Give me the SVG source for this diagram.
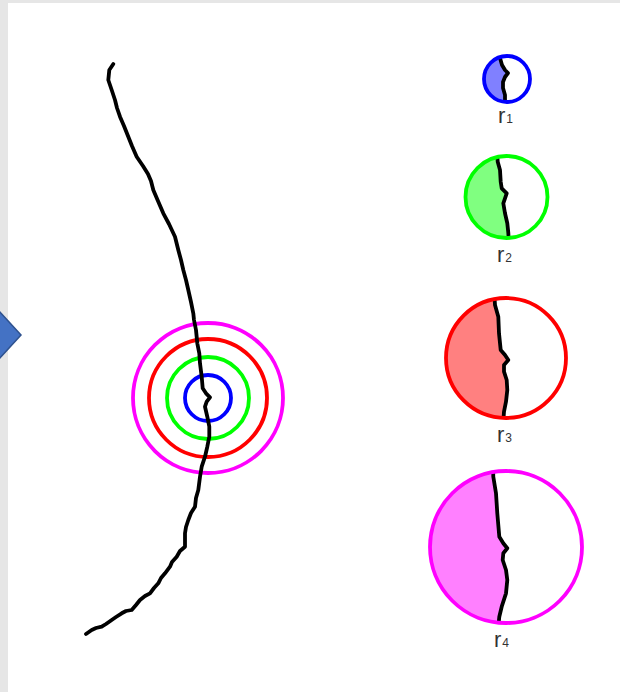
<svg xmlns="http://www.w3.org/2000/svg" width="620" height="692" viewBox="0 0 620 692">
<style>
.crack{fill:none;stroke:#000;stroke-width:3.8;stroke-linejoin:round;stroke-linecap:round}
.ring{fill:none;stroke-width:3.8}
.lbl{font-family:"Liberation Sans",Arial,sans-serif;fill:#333333}
.r{font-size:22px}
.sub{font-size:12px}
</style>
<defs>
<clipPath id="c1"><circle cx="507" cy="79" r="23"/></clipPath>
<clipPath id="c2"><circle cx="506.5" cy="197" r="41"/></clipPath>
<clipPath id="c3"><circle cx="506" cy="358" r="60"/></clipPath>
<clipPath id="c4"><circle cx="506" cy="547" r="76"/></clipPath>
</defs>
<rect x="0" y="0" width="620" height="692" fill="#e6e6e6"/>
<rect x="8" y="3" width="612" height="689" fill="#ffffff"/>
<g id="arrow">
<polygon points="-20,311 -1,311 21,335 -1,359 -20,359" fill="#4472C4" stroke="#2F528F" stroke-width="1.5"/>
</g>
<g id="rings">
<circle class="ring" cx="208" cy="398" r="75" stroke="#FF00FF"/>
<circle class="ring" cx="208" cy="398" r="59" stroke="#FF0000"/>
<circle class="ring" cx="208" cy="398" r="41" stroke="#00FF00"/>
<circle class="ring" cx="208" cy="398" r="23" stroke="#0000FF"/>
</g>
<g id="connectors">
<polyline class="crack" points="113.3,64 109.3,70 108.3,80 110,85 111.7,90 115,100 117,108 120,116.7 124,126 128.3,136.7 132,146 136.7,156.7 143,166 148,174 151,181 153.3,190 158,201 163.3,213.3 169,224 175,236.7 178.3,250 181,260 183.3,270 186,280 188.3,290 191,302 193.3,313.3 194,320 196,330 197.3,343.3 199.3,353.3 200,363.3 201.7,376.7 202.7,388.3 206,393.3 210,397.3 206.7,401.7 205,406.7 207.3,416.7 209.3,426.7 209.3,436.7 207.3,446.7 205,456.7 201.7,466.7 200,476.7 198.3,490 196,498 195,506.7 191,513 188.3,520 186,527 185,533.3 185,546.7 180,551 176.7,556.7 172,562 170,566.7 165,573.3 161,578 158.3,583.3 154,588 150,593.3 145,596 140,600 136,605 131.7,610 126,611 121.7,613.3 116,617 111.7,620 106,624 101.7,626.7 96,628 91.7,630 86,634"/>
</g>
<g id="r1">
<path d="M495,50 L500,58 502,65 505,70 508,73 505,77 503,82 503,88 505,95 505,108 L470,108 470,50 Z" fill="#8080FF" clip-path="url(#c1)"/>
<polyline class="crack" clip-path="url(#c1)" points="499,50 500,58 502,65 505,70 508,73 505,77 503,82 503,88 505,95 505,108"/>
<circle class="ring" cx="507" cy="79" r="23" stroke="#0000FF"/>
<text class="lbl" x="498" y="123"><tspan class="r">r</tspan><tspan class="sub" dx="1">1</tspan></text>
</g>
<g id="r2">
<path d="M497,150 L497.7,161.7 500,170 500.7,181.7 501.7,188.3 506.7,193.3 505,198.3 503.3,203.3 505,213.3 507.3,223.3 508.3,232.7 509,245 L455,245 455,150 Z" fill="#80FF80" clip-path="url(#c2)"/>
<polyline class="crack" clip-path="url(#c2)" points="497,150 497.7,161.7 500,170 500.7,181.7 501.7,188.3 506.7,193.3 505,198.3 503.3,203.3 505,213.3 507.3,223.3 508.3,232.7 509,245"/>
<circle class="ring" cx="506.5" cy="197" r="41" stroke="#00FF00"/>
<text class="lbl" x="497" y="262"><tspan class="r">r</tspan><tspan class="sub" dx="1">2</tspan></text>
</g>
<g id="r3">
<path d="M494,290 L495,305 498.3,316.7 499,333.3 500.7,350 505,355 508.3,360 504,365 504,371.7 506.7,380 507.3,390 506,401.7 504,411.7 503,425 L440,425 440,290 Z" fill="#FF8080" clip-path="url(#c3)"/>
<polyline class="crack" clip-path="url(#c3)" points="494,290 495,305 498.3,316.7 499,333.3 500.7,350 505,355 508.3,360 504,365 504,371.7 506.7,380 507.3,390 506,401.7 504,411.7 503,425"/>
<circle class="ring" cx="506" cy="358" r="60" stroke="#FF0000"/>
<text class="lbl" x="497" y="442"><tspan class="r">r</tspan><tspan class="sub" dx="1">3</tspan></text>
</g>
<g id="r4">
<path d="M493,465 L493.3,476.7 496,493.3 497.3,513.3 499.3,536.7 503.3,543.3 507.3,548.3 503.3,553.3 502.7,560 506,570 507.3,580 506,593.3 501.7,606.7 499.3,616.7 498,630 L420,630 420,465 Z" fill="#FF80FF" clip-path="url(#c4)"/>
<polyline class="crack" clip-path="url(#c4)" points="493,465 493.3,476.7 496,493.3 497.3,513.3 499.3,536.7 503.3,543.3 507.3,548.3 503.3,553.3 502.7,560 506,570 507.3,580 506,593.3 501.7,606.7 499.3,616.7 498,630"/>
<circle class="ring" cx="506" cy="547" r="76" stroke="#FF00FF"/>
<text class="lbl" x="494" y="647"><tspan class="r">r</tspan><tspan class="sub" dx="1">4</tspan></text>
</g>
</svg>
